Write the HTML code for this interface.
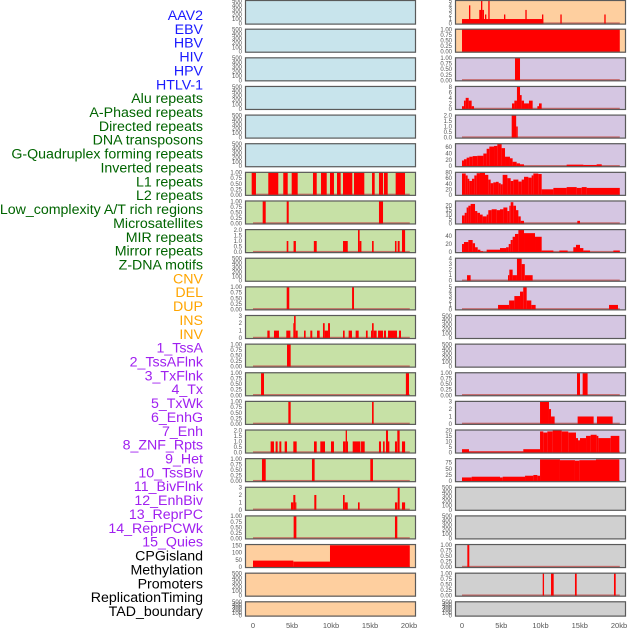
<!DOCTYPE html>
<html><head><meta charset="utf-8"><style>
body{margin:0;background:#fff;width:630px;height:630px;overflow:hidden}
svg{display:block}
</style></head><body>
<svg id="chart" width="630" height="630" xmlns="http://www.w3.org/2000/svg" font-family="Liberation Sans, sans-serif"></svg>
<script>
const trackNames = ["AAV2","EBV","HBV","HIV","HPV","HTLV-1","Alu repeats","A-Phased repeats","Directed repeats","DNA transposons","G-Quadruplex forming repeats","Inverted repeats","L1 repeats","L2 repeats","Low_complexity A/T rich regions","Microsatellites","MIR repeats","Mirror repeats","Z-DNA motifs","CNV","DEL","DUP","INS","INV","1_TssA","2_TssAFlnk","3_TxFlnk","4_Tx","5_TxWk","6_EnhG","7_Enh","8_ZNF_Rpts","9_Het","10_TssBiv","11_BivFlnk","12_EnhBiv","13_ReprPC","14_ReprPCWk","15_Quies","CPGisland","Methylation","Promoters","ReplicationTiming","TAD_boundary"];
const labelColors = ["#1a1aff","#1a1aff","#1a1aff","#1a1aff","#1a1aff","#1a1aff","#006400","#006400","#006400","#006400","#006400","#006400","#006400","#006400","#006400","#006400","#006400","#006400","#006400","#ffa500","#ffa500","#ffa500","#ffa500","#ffa500","#a020f0","#a020f0","#a020f0","#a020f0","#a020f0","#a020f0","#a020f0","#a020f0","#a020f0","#a020f0","#a020f0","#a020f0","#a020f0","#a020f0","#a020f0","#000","#000","#000","#000","#000"];
const panelBg = ["#c8e4ec","#c8e4ec","#c8e4ec","#c8e4ec","#c8e4ec","#c8e4ec","#c7e1a6","#c7e1a6","#c7e1a6","#c7e1a6","#c7e1a6","#c7e1a6","#c7e1a6","#c7e1a6","#c7e1a6","#c7e1a6","#c7e1a6","#c7e1a6","#c7e1a6","#fecf9f","#fecf9f","#fecf9f","#fecf9f","#fecf9f","#d5c6e2","#d5c6e2","#d5c6e2","#d5c6e2","#d5c6e2","#d5c6e2","#d5c6e2","#d5c6e2","#d5c6e2","#d5c6e2","#d5c6e2","#d5c6e2","#d5c6e2","#d5c6e2","#d5c6e2","#d0d0d0","#d0d0d0","#d0d0d0","#d0d0d0","#d0d0d0"];
const yMax = [500,500,500,500,500,500,1,1,2,500,1,3,1,1,1,2,1,3,1,155,500,500,5,1,1,8,2,70,80,25,55,4,5,500,500,1,3,20,90,500,500,1,1,500];
const yTicks = [
 [0,100,200,300,400,500],[0,100,200,300,400,500],[0,100,200,300,400,500],[0,100,200,300,400,500],[0,100,200,300,400,500],[0,100,200,300,400,500],
 [0,0.25,0.5,0.75,1],[0,0.25,0.5,0.75,1],[0,0.5,1,1.5,2],[0,100,200,300,400,500],[0,0.25,0.5,0.75,1],[0,1,2,3],[0,0.25,0.5,0.75,1],[0,0.25,0.5,0.75,1],[0,0.25,0.5,0.75,1],[0,0.5,1,1.5,2],[0,0.25,0.5,0.75,1],[0,1,2,3],[0,0.25,0.5,0.75,1],
 [0,50,100,150],[0,100,200,300,400,500],[0,100,200,300,400,500],
 [0,1,2,3,4,5],[0,0.25,0.5,0.75,1],[0,0.25,0.5,0.75,1],[0,2,4,6,8],[0,0.5,1,1.5,2],[0,20,40,60],[0,20,40,60,80],[0,5,10,15,20],[0,20,40],[0,1,2,3,4],[0,1,2,3,4,5],[0,100,200,300,400,500],[0,100,200,300,400,500],[0,0.25,0.5,0.75,1],[0,1,2,3],[0,5,10,15,20],[0,25,50,75],
 [0,100,200,300,400,500],[0,100,200,300,400,500],[0,0.25,0.5,0.75,1],[0,0.25,0.5,0.75,1],[0,100,200,300,400,500]];
const segments = [
 [],[],[],[],[],[],
 [[-0.17,0.38,1],[1.96,3.24,1],[3.88,4.45,1],[4.96,5.73,1],[7.69,8.17,1],[8.72,9.45,1],[9.87,10.38,1],[10.77,11.24,1],[11.54,12.73,1],[12.95,14.27,1],[15.26,15.6,1],[16.15,16.67,1],[16.79,17.27,1],[18.29,19.49,1]],
 [[1.24,1.63,1],[4.32,4.58,1],[16.15,16.67,1]],
 [[4.32,4.53,1],[5.2,5.5,1],[7.8,8.17,1],[11.54,12.15,1],[13.46,13.67,2],[13.67,13.9,1],[15.26,15.47,1],[18.2,18.4,1],[18.55,18.8,1],[19.1,19.5,2]],
 [],
 [[4.32,4.65,1],[12.7,12.95,1]],
 [[1.84,2.14,1],[2.69,3.33,1],[4.27,4.79,1],[5.17,5.26,2],[5.26,5.47,3],[5.47,5.73,1],[6.54,6.75,1],[7.35,7.6,1],[8.21,8.55,1],[8.97,9.19,2],[9.19,9.62,1],[9.62,9.87,2],[11.54,11.75,1],[12.26,12.69,1],[13.16,13.55,1],[14.48,14.7,1],[15.13,15.26,1],[15.26,15.47,2],[15.47,15.85,1],[16.03,16.67,1],[16.79,17.05,1],[17.31,18.46,1],[18.72,18.97,1]],
 [[4.36,4.83,1]],
 [[1.03,1.41,1],[19.6,20.0,1]],
 [[4.53,4.83,1],[15.26,15.47,1]],
 [[2.26,2.69,1],[2.9,3.16,1],[3.38,3.63,1],[4.06,4.36,1],[5.17,5.6,1],[7.82,8.17,1],[8.63,9.23,1],[10.0,10.38,1],[11.54,11.88,1],[11.88,12.05,2],[12.05,12.18,1],[12.78,13.77,1],[13.85,14.32,1],[16.15,16.41,1],[16.67,16.88,1],[17.05,17.31,2],[17.31,17.48,1],[18.2,18.46,1],[18.5,18.8,2],[19.1,19.5,1]],
 [[1.15,1.63,1],[7.56,7.9,1],[15.04,15.38,1]],
 [[4.87,5.17,1],[5.17,5.43,2],[5.43,5.56,1],[7.86,8.12,2],[11.54,11.75,2],[11.75,12.15,1],[13.46,13.67,1],[18.2,18.5,1],[18.55,18.8,3],[19.1,19.5,1]],
 [[5.21,5.56,1],[18.2,18.5,1]],
 [[0,5.17,45],[5.17,9.87,38],[9.87,20.1,152]],
 [],[],
 [[0,10.36,1],[0.89,1.06,4],[2.2,2.42,3],[2.42,2.59,5],[2.59,2.8,3],[2.93,3.1,2],[3.35,3.52,5],[5.35,5.52,2],[8.07,8.24,3],[10.19,10.36,2],[12.53,12.7,2],[18.13,18.3,2]],
 [[0,20.1,1]],
 [[6.75,7.39,1]],
 [[0,0.25,1],[0.25,0.47,3],[0.47,0.85,4],[0.85,1.23,3],[1.23,1.53,1],[6.37,6.67,2],[6.67,7.0,3],[7.0,7.39,8],[7.39,7.6,5],[7.6,7.9,3],[7.9,8.53,2],[8.53,9.0,3],[9.6,9.81,1],[9.81,10.15,2]],
 [[6.33,6.9,2],[6.9,7.1,1]],
 [[0,0.25,18],[0.25,0.59,22],[0.59,0.93,27],[0.93,1.36,30],[1.36,1.95,32],[1.95,2.72,33],[2.72,3.14,40],[3.14,3.48,55],[3.48,4.08,62],[4.08,4.5,64],[4.5,5.05,70],[5.05,5.48,57],[5.48,6.11,30],[6.11,6.45,25],[6.45,6.96,14],[6.96,7.39,9],[7.39,7.9,6],[13.33,15.46,5],[15.46,17.15,4],[17.15,17.8,6]],
 [[0,0.47,77],[0.47,0.72,70],[0.72,0.93,58],[0.93,1.27,50],[1.27,1.57,58],[1.57,1.87,70],[1.87,2.29,78],[2.29,2.93,80],[2.93,3.35,72],[3.35,3.65,55],[3.65,3.99,42],[3.99,4.33,45],[4.33,4.67,47],[4.67,4.93,42],[4.93,5.18,38],[5.18,5.78,72],[5.78,6.2,60],[6.2,6.54,50],[6.54,7.18,55],[7.18,7.6,48],[7.6,7.9,55],[7.9,8.45,65],[8.45,8.87,62],[8.87,9.09,70],[9.09,9.72,77],[9.72,10.15,75],[10.15,11.64,20],[11.64,13.33,25],[13.33,14.61,28],[14.61,15.25,25],[15.25,15.88,28],[15.88,20.1,25]],
 [[0,0.34,9],[0.34,0.59,12],[0.59,0.81,18],[0.81,1.1,20],[1.1,1.66,22],[1.66,1.95,14],[1.95,2.29,12],[2.29,2.63,10],[2.63,3.14,8],[3.14,3.35,10],[3.35,3.78,15],[3.78,4.42,16],[4.42,4.84,15],[4.84,5.27,16],[5.27,5.78,18],[5.78,6.03,14],[6.03,6.2,20],[6.2,6.54,24],[6.54,6.88,20],[6.88,7.18,15],[7.18,7.48,8],[7.48,7.9,3],[14.69,15.03,3]],
 [[0,0.25,20],[0.25,0.81,25],[0.81,1.36,30],[1.36,1.66,22],[1.66,2.0,12],[2.0,2.34,6],[2.34,2.68,2],[3.14,4.84,6],[4.84,5.61,10],[5.61,5.95,12],[5.95,6.2,20],[6.2,6.45,30],[6.45,6.75,38],[6.75,7.18,45],[7.18,7.9,55],[7.9,9.3,47],[9.3,10.15,38],[10.15,11.64,4],[12.4,13.46,4],[14.18,14.52,12],[14.52,15.03,18],[15.03,15.46,10],[15.46,16.31,4],[19.28,20.1,4]],
 [[0.64,1.1,1],[5.86,6.03,1],[6.03,6.45,2],[6.45,7.0,1],[7.0,7.6,4],[7.6,8.0,3],[8.0,9.0,1]],
 [[4.59,6.0,1],[6.0,6.67,2],[6.67,7.39,3],[7.39,7.8,4],[7.8,8.24,5],[8.24,8.83,2],[8.83,9.38,1],[18.73,19.87,1]],
 [],[],
 [[14.65,15.03,1],[15.37,16.0,1]],
 [[9.94,11.08,3],[11.08,11.34,2],[11.34,11.8,1],[14.73,16.77,1],[17.19,19.19,1]],
 [[0,0.89,3],[0.89,7.81,1],[7.81,9.94,3],[9.94,10.36,19],[10.36,10.87,18],[10.87,11.55,19],[11.55,12.7,20],[12.7,13.54,19],[13.54,14.52,18],[14.52,14.78,13],[14.78,15.03,11],[15.03,15.8,13],[15.8,16.39,15],[16.39,17.15,16],[17.15,17.37,15],[17.37,18.94,13],[18.94,20.04,15]],
 [[0,1.23,15],[1.23,4.84,18],[4.84,5.18,15],[5.18,8.03,18],[8.03,9.09,22],[9.09,9.6,25],[9.6,9.94,22],[9.94,12.48,88],[12.48,14.39,85],[14.39,14.95,83],[14.95,17.07,85],[17.07,20.04,88]],
 [],[],
 [[0.68,0.93,1]],
 [[10.28,10.45,1],[11.34,11.68,1],[14.39,14.61,1],[19.36,19.58,1]],
 []
];
const xTickVals = [0,5,10,15,20];
const xTickLabels = ["0","5kb","10kb","15kb","20kb"];

const NS="http://www.w3.org/2000/svg";
const svg=document.getElementById('chart');
function mk(tag,attrs,parent){const e=document.createElementNS(NS,tag);for(const k in attrs)e.setAttribute(k,attrs[k]);(parent||svg).appendChild(e);return e;}

trackNames.forEach((n,i)=>{
  const t=mk('text',{x:203,y:15+i*13.86+5,'text-anchor':'end','font-size':'14.2',fill:labelColors[i]});
  t.textContent=n;
  
  
});

const cols=[{x0:245,x1:416,zero:253,ppk:7.8,tickX:242},{x0:455,x1:626,zero:462,ppk:7.85,tickX:452}];
function rowGeom(r){
  if(r===0) return {top:0,h:24.6};
  const top=28.7+(r-1)*28.63;
  return {top:top,h:r===21?15.3:24};
}
function fmt(v,ticks){const step=ticks[1]-ticks[0];if(step<0.5)return v.toFixed(2);if(step<1)return v.toFixed(1);return String(v);}

for(let i=0;i<44;i++){
  const c=cols[i<22?0:1], r=i%22, g=rowGeom(r);
  const grp=mk('g',{});
  
  
  const xs=kb=>c.zero+kb*c.ppk;
  const yb=g.top+g.h-1, yt=g.top+0.8;
  const ys=v=>yb-(v/yMax[i])*(yb-yt);
  const bg=mk('rect',{x:c.x0,y:g.top,width:c.x1-c.x0,height:g.h,fill:panelBg[i]},grp);
  
  
  const segs=segments[i];
  if(segs.length){
    const base=mk('rect',{x:xs(0),y:yb-1.2,width:xs(20.1)-xs(0),height:1.6,fill:'#c0504d','fill-opacity':'0.8'},grp);
    
    
  }
  segs.forEach(s=>{
    const y=ys(s[2]);
    const b=mk('rect',{x:xs(s[0]),y:y,width:Math.max(0.8,xs(s[1])-xs(s[0])),height:yb-y,fill:'#ff0000'},grp);
    
    
  });
  const br=mk('rect',{x:c.x0+0.5,y:g.top+0.5,width:c.x1-c.x0-1,height:g.h-1,fill:'none',stroke:'#5a5a5a','stroke-width':'1.2'},grp);
  
  
  yTicks[i].forEach(v=>{
    const t=mk('text',{x:c.tickX,y:ys(v)+2,'text-anchor':'end','font-size':'6',fill:'#555'},grp);
    t.textContent=fmt(v,yTicks[i]);
    
    
  });
}
cols.forEach((c,ci)=>{
  xTickVals.forEach((v,k)=>{
    const t=mk('text',{x:c.zero+v*c.ppk,y:628,'text-anchor':'middle','font-size':'7.5',fill:'#555'});
    t.textContent=xTickLabels[k];
    
    
  });
});
</script>
</body></html>
